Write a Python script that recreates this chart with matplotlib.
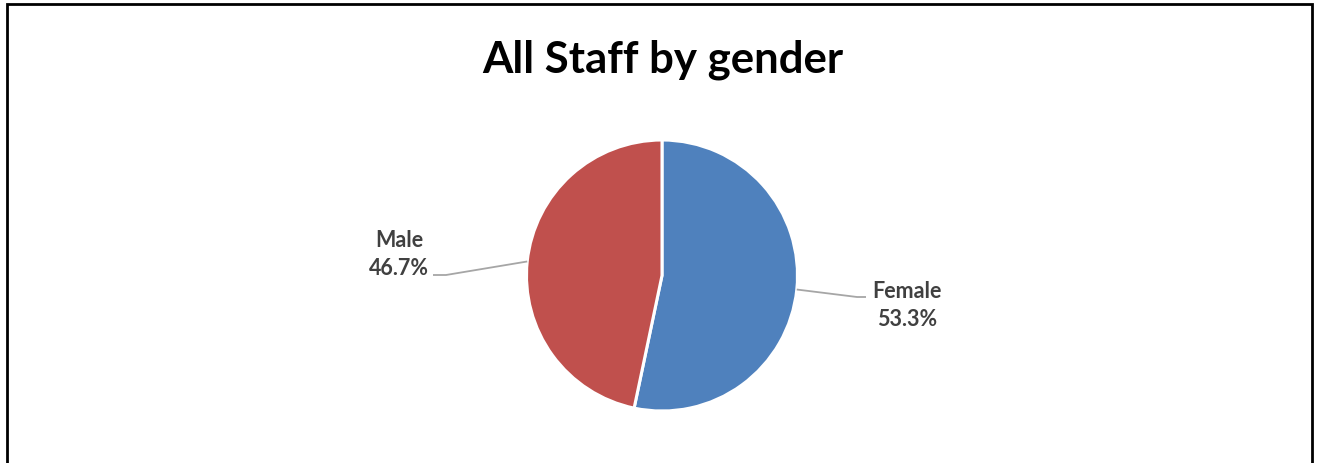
import matplotlib.pyplot as plt
import numpy as np
from matplotlib.patches import Rectangle

# staff headcount share by gender (percent)
genders = ["Female", "Male"]
shares = [53.3, 46.7]
colors = ["#4F81BD", "#C0504D"]

W, H = 1318, 464
plt.rcParams["font.family"] = ["Lato", "DejaVu Sans"]

fig = plt.figure(figsize=(W / 100, H / 100), dpi=100)
ax = fig.add_axes([0, 0, 1, 1])

# work in pixel units, y measured from the top
cx, cy, r = 662, 276.5, 135.5
ax.pie(
    shares,
    colors=colors,
    startangle=90,
    counterclock=False,
    center=(cx, H - cy),
    radius=r,
    wedgeprops=dict(edgecolor="white", linewidth=2.2),
)
ax.set_xlim(0, W)
ax.set_ylim(0, H)
ax.set_aspect("equal")
ax.axis("off")

ax.text(cx + 1, H - 73, "All Staff by gender", ha="center", va="baseline",
        fontsize=31.5, fontweight="bold", color="black")

# label positions (baseline of first line) and elbow of leader line
label_pos = {"Female": (907, 298), "Male": (399, 247)}
elbow = {"Female": ((857, 298), (866, 298)), "Male": ((446, 276), (433, 276))}

start = 90.0
for name, val in zip(genders, shares):
    sweep = val / sum(shares) * 360
    mid = np.deg2rad(start - sweep / 2)
    start -= sweep
    px = cx + r * np.cos(mid)
    py = cy - r * np.sin(mid)
    (ex, ey), (tx, ty) = elbow[name]
    ax.plot([px, ex, tx], [H - py, H - ey, H - ty], color="#A6A6A6", lw=1.3,
            solid_capstyle="butt")
    lx, ly = label_pos[name]
    ax.text(lx, H - ly, name, ha="center", va="baseline", fontsize=15.5,
            fontweight="bold", color="#404040")
    ax.text(lx, H - ly - 28, f"{val:.1f}%", ha="center", va="baseline",
            fontsize=15.5, fontweight="bold", color="#404040")

# chart area border, open at the bottom edge
fig.patches.append(Rectangle((7, -10), 1305, H - 5 + 10, transform=None,
                             fill=False, edgecolor="black", linewidth=2.0))

fig.savefig("out.png", dpi=100)
